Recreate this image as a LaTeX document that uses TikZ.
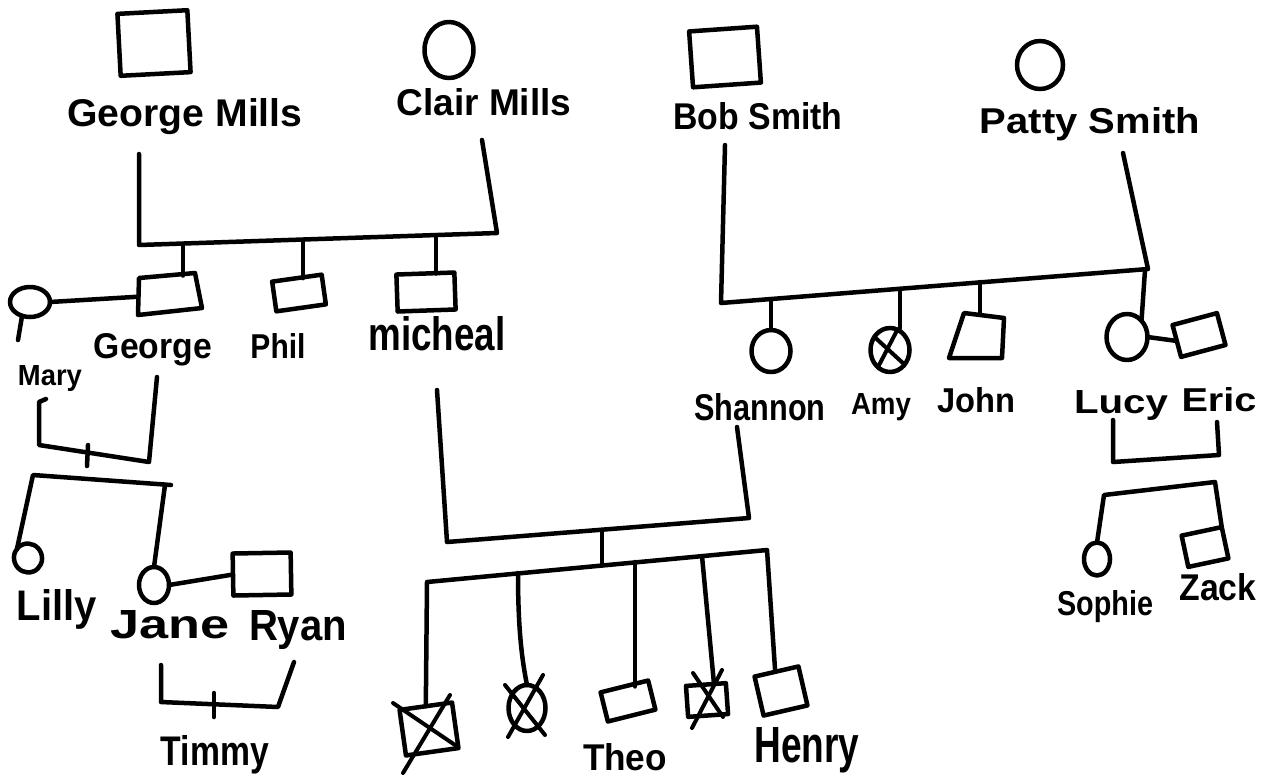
\documentclass[tikz,border=0pt]{standalone}
\usepackage{fontspec}
\setmainfont{Liberation Sans}
\usepackage{graphicx}
\usetikzlibrary{shapes.geometric}
% a name set to a given width and ascender height (pt)
\newcommand\nm[3]{\resizebox{#1pt}{#2pt}{#3}}

\begin{document}
\begin{tikzpicture}[x=1pt,y=-1pt,
  line width=4.5pt, line join=round, line cap=round,
  male/.style={draw, rectangle, inner sep=0pt, outer sep=0pt},
  female/.style={draw, ellipse, inner sep=0pt, outer sep=0pt},
  frame/.style={rectangle, inner sep=0pt, outer sep=0pt},
  lbl/.style={inner sep=0pt, anchor=base, font=\bfseries},
  cross/.style={line width=4pt},
]
\path[fill=white] (0,0) rectangle (1273,777);
\useasboundingbox (0,0) rectangle (1273,777);

% ---------- first generation ----------
\node[male, minimum width=70, minimum height=62, rotate=3] (gm) at (154,43) {};
\node[female, minimum width=49, minimum height=56] (cm) at (449,50) {};
\node[male, minimum width=68, minimum height=56, rotate=4] (bob) at (725,57) {};
\node[female, minimum width=46, minimum height=48] (patty) at (1040,65) {};

\node[lbl] (lgm) at (185,126) {\nm{235}{28}{George Mills}};
\node[lbl] (lcm) at (484,115) {\nm{175}{27}{Clair Mills}};
\node[lbl] (lbob) at (758,129) {\nm{169}{27}{Bob Smith}};
\node[lbl] (lpatty) at (1090,133) {\nm{220}{26}{Patty Smith}};

% ---------- second generation ----------
% George: hand-drawn trapezium
\node[frame, minimum width=63, minimum height=37, rotate=5] (george) at (169,294) {};
\coordinate (g1) at (139,278); \coordinate (g2) at (195,273);
\coordinate (g3) at (202,308); \coordinate (g4) at (138,315);
\draw (g1) -- (g2) -- (g3) -- (g4) -- cycle;
\node[male, minimum width=50, minimum height=30, rotate=8] (phil) at (299,293) {};
\node[male, minimum width=58, minimum height=37, rotate=2] (mich) at (426,292) {};
\node[female, minimum width=40, minimum height=30] (mary) at (30,302) {};

\node[female, minimum width=39, minimum height=42] (shan) at (771,351) {};
\node[female, minimum width=39, minimum height=44] (amy) at (890,350) {};
% John: hand-drawn trapezium
\node[frame, minimum width=53, minimum height=44, rotate=-4] (john) at (977,336) {};
\coordinate (j1) at (964,313); \coordinate (j2) at (1004,318);
\coordinate (j3) at (1002,358); \coordinate (j4) at (949,358);
\draw (j1) -- (j2) -- (j3) -- (j4) -- cycle;
\node[female, minimum width=41, minimum height=46] (lucy) at (1127,337) {};
\node[male, minimum width=46, minimum height=33, rotate=15] (eric) at (1199,335) {};

\node[lbl] (lmary) at (50,385) {\nm{64}{20}{Mary}};
\node[lbl] (lgeorge) at (153,358) {\nm{118}{25}{George}};
\node[lbl] (lphil) at (278,358) {\nm{55}{25}{Phil}};
\node[lbl] (lmich) at (437,350) {\nm{137}{34}{micheal}};
\node[lbl] (lshan) at (760,420) {\nm{131}{27}{Shannon}};
\node[lbl] (lamy) at (881,414) {\nm{60}{21}{Amy}};
\node[lbl] (ljohn) at (976,412) {\nm{78}{25}{John}};
\node[lbl] (llucy) at (1121,413) {\nm{94}{23}{Lucy}};
\node[lbl] (leric) at (1219,411) {\nm{75}{24}{Eric}};

% ---------- third generation ----------
\node[female, minimum width=28, minimum height=29, rotate=20] (lilly) at (28,558) {};
\node[female, minimum width=30, minimum height=36] (jane) at (154,585) {};
\node[male, minimum width=58, minimum height=42, rotate=1] (ryan) at (262,574) {};

\node[male, minimum width=53, minimum height=46, rotate=8] (c1) at (429,729) {};
\node[female, minimum width=37, minimum height=46] (c2) at (527,708) {};
\node[male, minimum width=49, minimum height=30, rotate=14] (theo) at (628,701) {};
\node[male, minimum width=40, minimum height=31, rotate=4] (c4) at (707,700) {};
\node[male, minimum width=45, minimum height=40, rotate=13] (henry) at (781,691) {};

\node[female, minimum width=26, minimum height=33] (sophie) at (1097,559) {};
\node[male, minimum width=41, minimum height=32, rotate=12] (zack) at (1205,547) {};

\node[lbl] (llilly) at (57,620) {\nm{80}{31}{Lilly}};
\node[lbl] (ljane) at (170,638) {\nm{119}{28}{Jane}};
\node[lbl] (lryan) at (298,640) {\nm{98}{30}{Ryan}};
\node[lbl] (ltheo) at (625,770) {\nm{84}{27}{Theo}};
\node[lbl] (lhenry) at (807,762) {\nm{105}{35}{Henry}};
\node[lbl] (lsophie) at (1105,615) {\nm{96}{25}{Sophie}};
\node[lbl] (lzack) at (1218,600) {\nm{77}{27}{Zack}};

% ---------- fourth generation ----------
\node[lbl] (ltimmy) at (215,765) {\nm{108}{30}{Timmy}};

% ---------- deceased crosses ----------
\coordinate (c1a) at (393,703); \coordinate (c1b) at (455,745);
\coordinate (c1c) at (450,695); \coordinate (c1d) at (403,773);
\draw[cross] (c1a) -- (c1b); \draw[cross] (c1c) -- (c1d);
\coordinate (c2a) at (505,685); \coordinate (c2b) at (545,735);
\coordinate (c2c) at (543,675); \coordinate (c2d) at (508,737);
\draw[cross] (c2a) -- (c2b); \draw[cross] (c2c) -- (c2d);
\coordinate (c4a) at (693,673); \coordinate (c4b) at (723,717);
\coordinate (c4c) at (722,670); \coordinate (c4d) at (692,728);
\draw[cross] (c4a) -- (c4b); \draw[cross] (c4c) -- (c4d);
\draw[cross] (amy.140) -- (amy.-45);
\draw[cross] (amy.70) -- (amy.235);

% ---------- Mills family ----------
\coordinate (gmTop) at (139,154); \coordinate (gmJ) at (139,245);
\coordinate (cmJ) at (497,233);   \coordinate (cmTop) at (482,140);
\draw (gmTop) -- (gmJ) -- (cmJ) -- (cmTop);
\coordinate (sGeorge) at (183,244);
\coordinate (sPhil) at (303,240);
\coordinate (sMich) at (436,235);
\draw (sGeorge) -- (sGeorge |- george.north);
\draw (sPhil) -- (sPhil |- phil.north);
\draw (sMich) -- (sMich |- mich.north);

% Mary and George
\draw (mary.east) -- (george.west);
\coordinate (maryTail) at (18,340);
\draw (mary.240) -- (maryTail);
\coordinate (mgHook) at (46,399); \coordinate (mgL) at (39,402);
\coordinate (mgLB) at (39,445);   \coordinate (mgRB) at (149,462);
\coordinate (mgR) at (157,377);
\draw (mgHook) -- (mgL) -- (mgLB) -- (mgRB) -- (mgR);
\coordinate (mgT1) at (88,445); \coordinate (mgT2) at (87,466);
\draw (mgT1) -- (mgT2);
\coordinate (ljL) at (33,475); \coordinate (ljR) at (171,485);
\coordinate (ljJ) at (165,485);
\draw (lilly.120) -- (ljL) -- (ljR);
\draw (ljJ) -- (jane.north);

% Jane and Ryan
\draw (jane.east) -- (ryan.west);
\coordinate (tL) at (161,665);  \coordinate (tLB) at (161,702);
\coordinate (tRB) at (278,707); \coordinate (tR) at (294,662);
\draw (tL) -- (tLB) -- (tRB) -- (tR);
\coordinate (tT1) at (214,693); \coordinate (tT2) at (214,717);
\draw (tT1) -- (tT2);

% ---------- Smith family ----------
\coordinate (bobTop) at (725,145);   \coordinate (bobJ) at (721,303);
\coordinate (pattyJ) at (1148,269);  \coordinate (pattyTop) at (1123,153);
\draw (bobTop) -- (bobJ) -- (pattyJ) -- (pattyTop);
\coordinate (sShan) at (771,299);
\coordinate (sAmy) at (900,292);
\coordinate (sJohn) at (980,282);
\coordinate (sLucy) at (1145,270);
\draw (sShan) -- (shan.north);
\draw (sAmy) -- (sAmy |- amy.north);
\draw (sJohn) -- (sJohn |- john.north);
\draw (sLucy) -- (lucy.north east);

% Lucy and Eric
\draw (lucy.east) -- (eric.west);
\coordinate (leL) at (1113,420);  \coordinate (leLB) at (1113,462);
\coordinate (leRB) at (1219,455); \coordinate (leR) at (1217,422);
\draw (leL) -- (leLB) -- (leRB) -- (leR);
\coordinate (szL) at (1104,495); \coordinate (szR) at (1215,482);
\draw (sophie.north) -- (szL) -- (szR) -- (zack.north east);

% ---------- micheal and Shannon ----------
\coordinate (msL) at (437,390);  \coordinate (msLB) at (447,542);
\coordinate (msRB) at (749,518); \coordinate (msR) at (737,427);
\draw (msL) -- (msLB) -- (msRB) -- (msR);
\coordinate (msS1) at (602,530); \coordinate (msS2) at (602,565);
\draw (msS1) -- (msS2);
\coordinate (kL) at (427,582); \coordinate (kR) at (767,550);
\coordinate (henTop) at (775,669);
\draw (c1.north) -- (kL) -- (kR) -- (henTop);
\coordinate (kC2) at (518,573);
\draw (kC2) .. controls (518,630) and (522,660) .. (c2.north);
\coordinate (kC3) at (635,562);
\draw (kC3) -- (kC3 |- theo.north);
\coordinate (kC4) at (702,556); \coordinate (c4Top) at (714,684);
\draw (kC4) -- (c4Top);
\end{tikzpicture}
\end{document}
